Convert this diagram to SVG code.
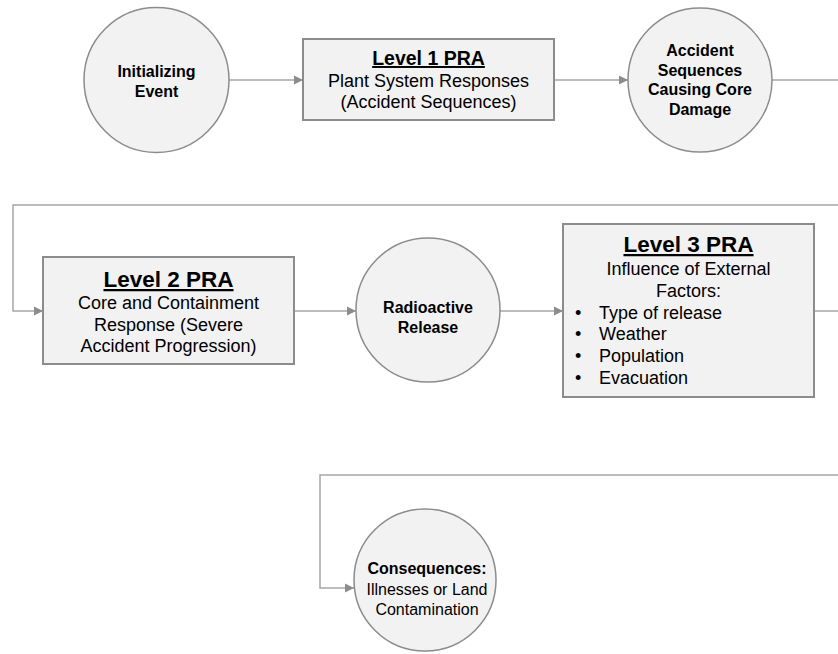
<svg xmlns="http://www.w3.org/2000/svg" width="838" height="654" viewBox="0 0 838 654">
<defs>
<marker id="arr" markerWidth="10" markerHeight="10" refX="9" refY="5" orient="auto" markerUnits="userSpaceOnUse">
<path d="M0,0.5 L9,5 L0,9.5 Z" fill="#8c8c8c"/>
</marker>
<style>
.conn{fill:none;stroke:#a6a6a6;stroke-width:1.5}
.circ{fill:#f2f2f2;stroke:#8c8c8c;stroke-width:1.5}
.box{fill:#f2f2f2;stroke:#8c8c8c;stroke-width:2}
text{font-family:"Liberation Sans",Arial,sans-serif;fill:#000;text-anchor:middle}
.b{font-weight:bold;font-size:16px}
.cr{font-size:16px}
.t{font-weight:bold;text-decoration:underline}
.r{font-size:18px}
.l{text-anchor:start;font-size:18px}
</style>
</defs>
<rect width="838" height="654" fill="#fff"/>
<g id="connectors">
<path class="conn" d="M229,80 H303" marker-end="url(#arr)"/>
<path class="conn" d="M554,80 H628" marker-end="url(#arr)"/>
<path class="conn" d="M772,80 H846 V205 H13 V311 H43" marker-end="url(#arr)"/>
<path class="conn" d="M294,311 H356" marker-end="url(#arr)"/>
<path class="conn" d="M500,311 H563" marker-end="url(#arr)"/>
<path class="conn" d="M814,311 H846 V475 H320 V588 H354" marker-end="url(#arr)"/>
</g>
<g id="initializing-event">
<circle class="circ" cx="156.5" cy="80" r="72.5"/>
<text class="b" x="156.5" y="77">Initializing</text>
<text class="b" x="156.5" y="97">Event</text>
</g>
<g id="level1">
<rect class="box" x="303" y="39" width="251" height="81"/>
<text class="t" x="428.5" y="65" font-size="19.5">Level 1 PRA</text>
<text class="r" x="428.5" y="87">Plant System Responses</text>
<text class="r" x="428.5" y="108">(Accident Sequences)</text>
</g>
<g id="core-damage">
<circle class="circ" cx="700" cy="80" r="72"/>
<text class="b" x="700" y="56">Accident</text>
<text class="b" x="700" y="75.5">Sequences</text>
<text class="b" x="700" y="95">Causing Core</text>
<text class="b" x="700" y="114.5">Damage</text>
</g>
<g id="level2">
<rect class="box" x="43" y="257" width="251" height="107"/>
<text class="t" x="168.5" y="287" font-size="22.5">Level 2 PRA</text>
<text class="r" x="168.5" y="309">Core and Containment</text>
<text class="r" x="168.5" y="331">Response (Severe</text>
<text class="r" x="168.5" y="352">Accident Progression)</text>
</g>
<g id="radioactive-release">
<circle class="circ" cx="428" cy="310" r="72"/>
<text class="b" x="428" y="313">Radioactive</text>
<text class="b" x="428" y="333">Release</text>
</g>
<g id="level3">
<rect class="box" x="563" y="224" width="251" height="173"/>
<text class="t" x="688.5" y="252" font-size="22.5">Level 3 PRA</text>
<text class="r" x="688.5" y="275">Influence of External</text>
<text class="r" x="688.5" y="297">Factors:</text>
<text class="l" x="575" y="319">•</text>
<text class="l" x="599" y="319">Type of release</text>
<text class="l" x="575" y="340">•</text>
<text class="l" x="599" y="340">Weather</text>
<text class="l" x="575" y="362">•</text>
<text class="l" x="599" y="362">Population</text>
<text class="l" x="575" y="384">•</text>
<text class="l" x="599" y="384">Evacuation</text>
</g>
<g id="consequences">
<circle class="circ" cx="425" cy="580" r="71"/>
<text class="b" x="427" y="574">Consequences:</text>
<text class="cr" x="427" y="595">Illnesses or Land</text>
<text class="cr" x="427" y="615">Contamination</text>
</g>
</svg>
